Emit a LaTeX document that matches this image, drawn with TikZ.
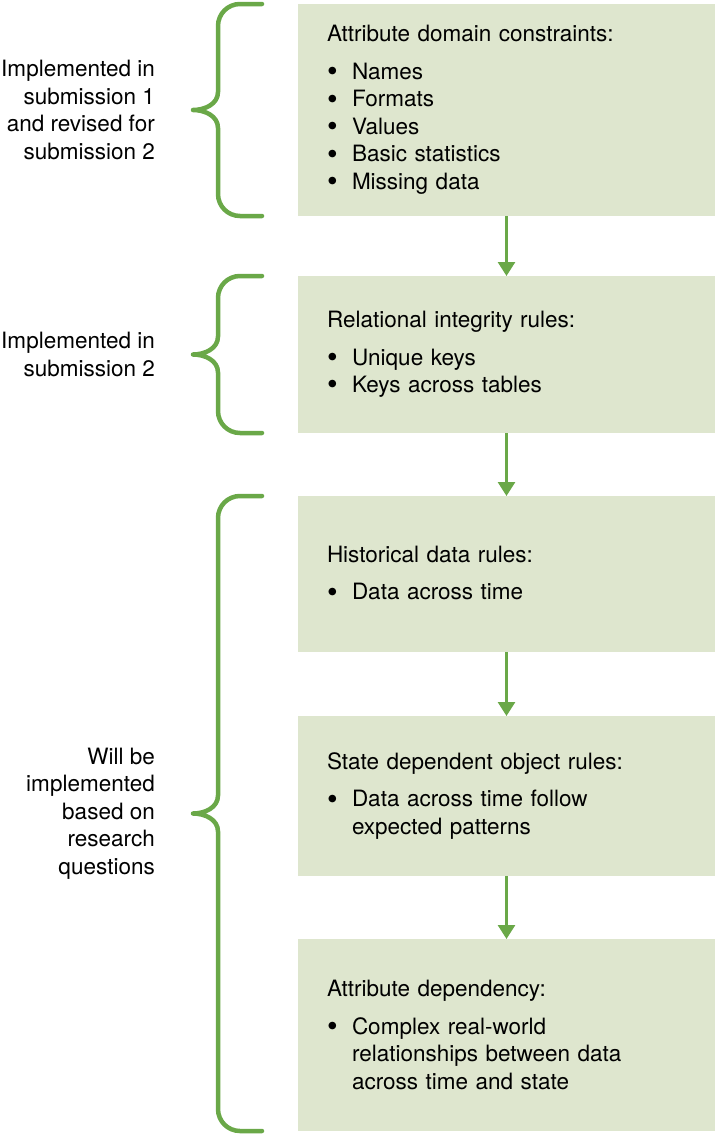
\documentclass[tikz,border=0pt]{standalone}
\usepackage{fontspec}
\setmainfont{TeX Gyre Heros}
\usepackage{xcolor}
\usepackage{tikz}
\usetikzlibrary{calc}
\usetikzlibrary{positioning, arrows.meta}
\definecolor{stagefill}{RGB}{222,230,206}
\definecolor{stagegreen}{RGB}{106,168,72}
\tikzstyle{stage} = [rectangle, 
minimum width=417pt, 
text width=359pt, 
inner sep=0pt, outer sep=0pt, 
align=left, 
fill=stagefill]
\tikzstyle{sidenote} = [inner sep=0pt, align=right]
\tikzstyle{brace} = [stagegreen, line width=4.5pt, line cap=round, line join=round]
\tikzstyle{arrow} = [stagegreen, line width=2.8pt, -{Triangle[width=17pt,length=14pt]}]
\newcommand{\bul}{\makebox[25pt][l]{\raisebox{-2.2pt}{\scalebox{1.35}{\textbullet}}}}
\newcommand{\bulind}{\hspace*{25pt}}
% curly bracket from the top of #1 to the bottom of #2, tip named #3
\newcommand{\grpbrace}[3]{%
	\coordinate (#3) at ($(#1.north west)!0.5!(#2.south west)+(-105pt,0)$);
	\draw [brace] ($(#1.north west)+(-36pt,0)$) -- ++(-22pt,0) to[out=180,in=90] ++(-22pt,-22pt)
	-- ($(#3)+(25pt,18pt)$) .. controls +(0,-12pt) and +(12pt,0) .. (#3)
	.. controls +(12pt,0) and +(0,12pt) .. ($(#3)+(25pt,-18pt)$)
	-- ($(#2.south west)+(-80pt,22pt)$) to[out=-90,in=180] ++(22pt,-22pt) -- ++(22pt,0);}
\begin{document}
\begin{tikzpicture}[font=\fontsize{22.5}{27.5}\selectfont]
			\useasboundingbox (0,0) rectangle (715pt,-1135pt);
			\node (attrDomain) [stage, minimum height=212pt, anchor=north west] at (298pt,-4pt) {Attribute domain constraints:\\[10pt]
				\bul Names\\ \bul Formats\\ \bul Values\\ \bul Basic statistics\\ \bul Missing data};
			
			\node (relInteg) [stage, minimum height=157pt, below=60pt of attrDomain] {Relational integrity rules:\\[10pt]
				\bul Unique keys\\ \bul Keys across tables};
			\draw [arrow] (attrDomain) -- (relInteg);
			
			\node (history) [stage, minimum height=156pt, below=63pt of relInteg] {Historical data rules:\\[10pt]
				\bul Data across time};
			\draw [arrow] (relInteg) -- (history);
			
			\node (stateDep) [stage, minimum height=160pt, below=64pt of history] {State dependent object rules:\\[10pt]
				\bul Data across time follow\\ \bulind expected patterns};
			\draw [arrow] (history) -- (stateDep);
			
			\node (attrDep) [stage, minimum height=192pt, below=63pt of stateDep] {Attribute dependency:\\[10pt]
				\bul Complex real-world\\ \bulind relationships between data\\ \bulind across time and state};
			\draw [arrow] (stateDep) -- (attrDep);
			
			\grpbrace{attrDomain}{attrDomain}{tipFirst}
			\grpbrace{relInteg}{relInteg}{tipSecond}
			\grpbrace{history}{attrDep}{tipLater}
			
			\node (noteFirst) [sidenote, left=38pt of tipFirst] {Implemented in\\ submission 1\\ and revised for\\ submission 2};
			\node (noteSecond) [sidenote, left=38pt of tipSecond] {Implemented in\\ submission 2};
			\node (noteLater) [sidenote, left=38pt of tipLater] {Will be\\ implemented\\ based on\\ research\\ questions};
		\end{tikzpicture}
\end{document}
